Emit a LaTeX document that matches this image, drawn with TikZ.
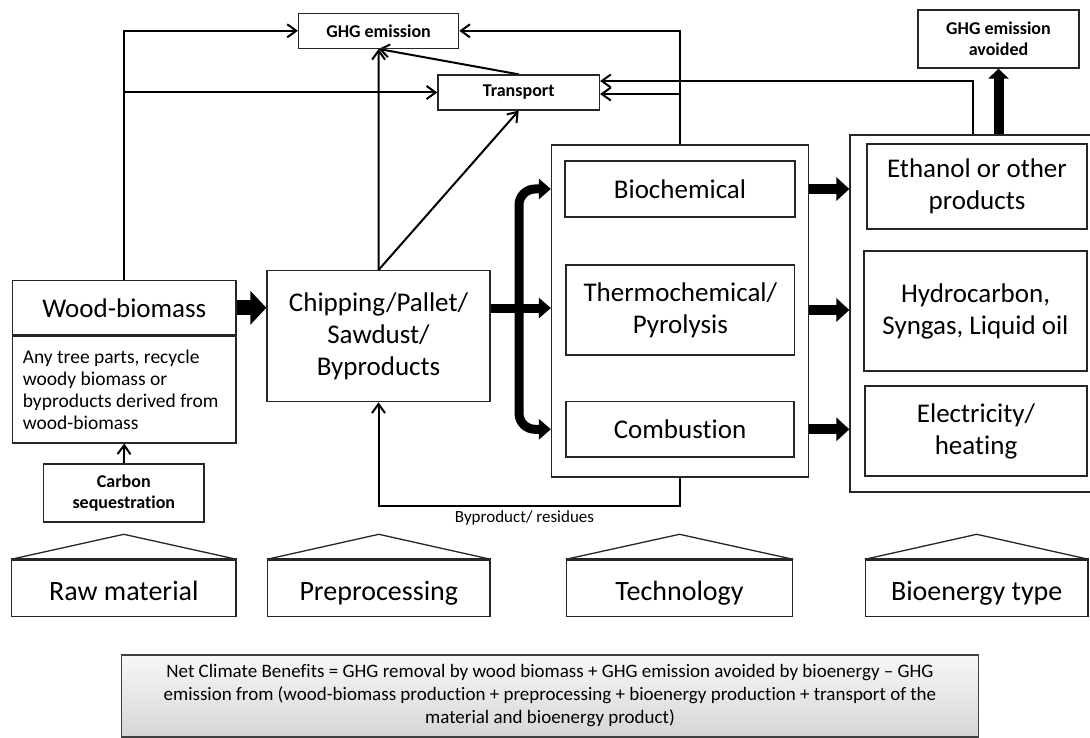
\documentclass[tikz,border=0pt]{standalone}
\usepackage{fontspec}
\setmainfont{Carlito}[Ligatures={TeX,NoCommon}]
\usetikzlibrary{arrows.meta}
\pgfdeclarelayer{bg}
\pgfsetlayers{bg,main}
\tikzset{
    box/.style={rectangle, draw=black!85, line width=1.3pt, inner sep=0pt, align=center, font=\fontsize{27}{32}\selectfont},
    tag/.style={box, font=\bfseries\fontsize{18}{21}\selectfont},
    frame/.style={rectangle, draw=black!85, line width=1.3pt, inner sep=0pt},
    stage/.style={box, font=\fontsize{28}{32}\selectfont, text height=28pt, text depth=3pt},
    flow/.style={line width=2pt, -{Straight Barb[length=9pt, width=13pt]}},
    fat/.style={line width=10pt, -{Triangle[length=13pt, width=23pt]}},
    branch/.style={line width=9pt, -{Triangle[length=12pt, width=20pt]}},
    roof/.style={draw=black!85, line width=1.3pt}
}

\begin{document}
\begin{tikzpicture}[x=1pt, y=-1pt]
  \useasboundingbox (0,0) rectangle (1090,738);

  \node[tag, minimum width=160pt, minimum height=35pt] (ghg) at (378.6, 30.8) {GHG emission};
  \node[tag, minimum width=161.5pt, minimum height=35pt] (trans) at (518.7, 92.5) {Transport};
  \node[tag, minimum width=161pt, minimum height=58pt] (avoided) at (998.5, 39) {GHG emission\\avoided};

  \node[box, minimum width=223.5pt, minimum height=54.5pt] (wood) at (124.3, 307.8) {Wood-biomass};
  \node[box, minimum width=223.5pt, minimum height=106.7pt, text width=203pt, align=flush left,
        font=\fontsize{19.5}{22}\selectfont] (desc) at (124.3, 389.5)
        {Any tree parts, recycle\\woody biomass or\\byproducts derived from\\wood-biomass};
  \node[tag, minimum width=160.4pt, minimum height=58pt] (carbon) at (123.8, 493) {Carbon\\sequestration};

  \node[box, minimum width=223pt, minimum height=131pt] (chip) at (378.5, 336.2) {Chipping/Pallet/\\Sawdust/\\Byproducts};

  \node[frame, minimum width=257pt, minimum height=332pt] (tech) at (680, 311) {};
  \node[box, minimum width=230pt, minimum height=56pt] (bio) at (680, 189) {Biochemical};
  \node[box, minimum width=228.6pt, minimum height=90pt] (thermo) at (680.3, 310) {Thermochemical/\\Pyrolysis};
  \node[box, minimum width=228pt, minimum height=55.3pt] (comb) at (680, 429.3) {Combustion};

  \node[frame, minimum width=245pt, minimum height=357pt] (energy) at (972.5, 313.5) {};
  \node[box, minimum width=220pt, minimum height=85pt] (ethanol) at (977, 186.5) {Ethanol or other\\products};
  \node[box, minimum width=223pt, minimum height=120pt] (hydro) at (975.5, 311) {Hydrocarbon,\\Syngas, Liquid oil};
  \node[box, minimum width=222pt, minimum height=90pt] (elec) at (976, 431) {Electricity/\\heating};

  \node[font=\fontsize{17}{20}\selectfont, inner sep=0pt] (byp) at (524.5, 518) {Byproduct/ residues};

  \node[stage, minimum width=224.3pt, minimum height=56.7pt] (raw) at (123.8, 588.3) {Raw material};
  \node[stage, minimum width=222.4pt, minimum height=56.7pt] (pre) at (378.8, 588.3) {Preprocessing};
  \node[stage, minimum width=226pt, minimum height=56.7pt] (techl) at (679.5, 588.3) {Technology};
  \node[stage, minimum width=222.5pt, minimum height=56.7pt] (btype) at (976.7, 588.3) {Bioenergy type};

  \node[box, minimum width=856.6pt, minimum height=82pt, top color=gray!6, bottom color=gray!32,
        draw=black!75, font=\fontsize{19}{23}\selectfont] (net) at (550, 696)
        {Net Climate Benefits = GHG removal by wood biomass + GHG emission avoided by bioenergy -- GHG\\
         emission from (wood-biomass production + preprocessing + bioenergy production + transport of the\\
         material and bioenergy product)};

  \coordinate (t1) at ([yshift=11.5pt]trans.east);
  \coordinate (t2) at ([yshift=-1.5pt]trans.east);
  \coordinate (split) at (519, 308);

  \draw[roof] (raw.north west) -- ([yshift=25pt]raw.north) -- (raw.north east);
  \draw[roof] (pre.north west) -- ([yshift=25pt]pre.north) -- (pre.north east);
  \draw[roof] (techl.north west) -- ([yshift=25pt]techl.north) -- (techl.north east);
  \draw[roof] (btype.north west) -- ([yshift=25pt]btype.north) -- (btype.north east);
  \draw[roof, line width=2.2pt] (raw.north west) -- (raw.north east);
  \draw[roof, line width=2.2pt] (pre.north west) -- (pre.north east);
  \draw[roof, line width=2.2pt] (techl.north west) -- (techl.north east);
  \draw[roof, line width=2.2pt] (btype.north west) -- (btype.north east);

  \begin{pgfonlayer}{bg}
    \draw[flow] (wood.north) |- (ghg.west);
    \draw[flow] (wood.north |- trans.west) -- (trans.west);
    \draw[flow] (chip.north) -- (ghg.south);
    \draw[flow] (chip.north) -- (trans.south);
    \draw[flow] (trans.north) -- (ghg.south);
    \draw[flow] (tech.north) |- (ghg.east);
    \draw[flow] (tech.north |- t2) -- (t2);
    \draw[flow] (energy.north) |- (t1);
    \draw[flow] (carbon.north) -- (desc.south);
    \draw[flow] (tech.south) -- ++(0,28) -| (chip.south);

    \draw[line width=15pt, -{Triangle[length=16pt, width=33pt]}] (wood.east) -- (chip.west |- wood.east);
    \draw[branch] (chip.east |- split) -- (tech.west |- split);
    \draw[branch, {Triangle[length=12pt, width=20pt]}-{Triangle[length=12pt, width=20pt]}, rounded corners=16pt]
      (tech.west |- bio) -| (split) |- (tech.west |- comb);

    \draw[fat] (tech.east |- bio) -- (energy.west |- bio);
    \draw[fat] (tech.east |- thermo) -- (energy.west |- thermo);
    \draw[fat] (tech.east |- comb) -- (energy.west |- comb);
    \draw[fat, -{Triangle[length=10pt, width=20pt]}] (energy.north -| avoided.south) -- (avoided.south);
  \end{pgfonlayer}
\end{tikzpicture}
\end{document}
